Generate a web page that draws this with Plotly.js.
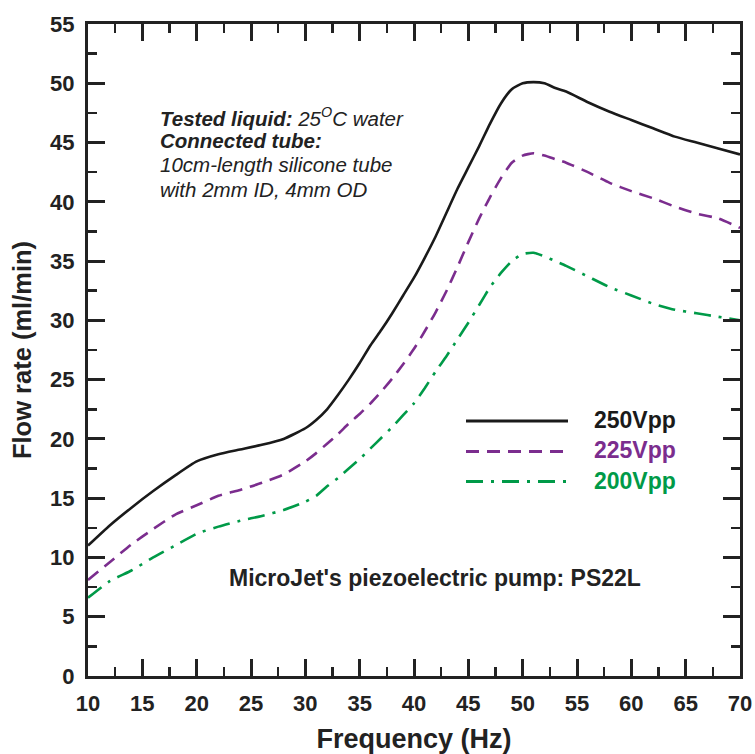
<!DOCTYPE html>
<html>
<head>
<meta charset="utf-8">
<script src="https://cdn.plot.ly/plotly-3.0.1.min.js"></script>
<style>html,body{margin:0;padding:0;background:#fff;}#chart{width:755px;height:754px;}</style>
</head>
<body>
<div id="chart"></div>
<script>
// Frequency (Hz)
const freq = [10,12,14,16,18,20,22,24,26,28,30,31,32,33,34,35,36,37,38,39,40,41,42,43,44,45,46,47,48,49,50,51,52,53,54,56,58,60,62,64,66,68,70];
// Flow rate (ml/min)
const flow250 = [11.0,12.7,14.2,15.6,16.9,18.1,18.7,19.1,19.5,20.0,20.9,21.6,22.5,23.7,25.0,26.4,27.9,29.2,30.6,32.1,33.6,35.3,37.1,39.1,41.1,42.9,44.7,46.6,48.3,49.5,50.0,50.1,50.0,49.6,49.3,48.4,47.6,46.9,46.2,45.5,45.0,44.5,44.0];
const flow225 = [8.1,9.6,11.1,12.4,13.6,14.4,15.2,15.7,16.3,17.0,18.1,18.8,19.6,20.4,21.3,22.1,23.0,24.0,25.1,26.3,27.6,29.1,30.7,32.5,34.5,36.6,38.6,40.4,42.0,43.3,43.9,44.1,43.9,43.6,43.3,42.5,41.6,40.9,40.3,39.6,39.0,38.6,37.8];
const flow200 = [6.6,8.0,8.9,10.0,11.0,12.0,12.6,13.1,13.5,14.0,14.7,15.2,16.0,16.7,17.5,18.3,19.2,20.1,21.0,22.0,23.0,24.3,25.7,27.0,28.4,29.8,31.3,32.8,34.0,35.0,35.6,35.7,35.4,35.0,34.6,33.7,32.8,32.1,31.4,30.9,30.6,30.3,30.0];
const seriesNames = ["250Vpp","225Vpp","200Vpp"];
const xTicks = [10,15,20,25,30,35,40,45,50,55,60,65,70];
const yTicks = [0,5,10,15,20,25,30,35,40,45,50,55];

const BLACK = "#1a1a1a", PURPLE = "#7b2d8e", GREEN = "#009a48";
const FONT = "Liberation Sans, Arial, Helvetica, sans-serif";
const dashes = ["solid", "13px,8px", "17px,8px,3px,8px"];
const colors = [BLACK, PURPLE, GREEN];
const ys = [flow250, flow225, flow200];

const traces = ys.map((y, i) => ({
  x: freq, y: y, type: "scatter", mode: "lines", name: seriesNames[i],
  line: {color: colors[i], width: 2.6, dash: dashes[i], shape: "spline", smoothing: 0.5},
  showlegend: false, hoverinfo: "skip"
}));

// plot area in pixels: x 88..740, y 24..676
const L = 88, R = 740, T = 24, B = 676;
const px = v => (v - L) / (R - L);
const py = v => (B - v) / (B - T);

const legendY = [421, 451.5, 481.5];
const shapes = legendY.map((yy, i) => ({
  type: "line", xref: "paper", yref: "paper",
  x0: px(466), x1: px(568), y0: py(yy), y1: py(yy),
  line: {color: colors[i], width: 2.8, dash: dashes[i]}
}));

const annotations = [];
legendY.forEach((yy, i) => annotations.push({
  xref: "paper", yref: "paper", x: px(592), y: py(yy - 1), xanchor: "left", yanchor: "middle",
  text: "<b>" + seriesNames[i] + "</b>", showarrow: false,
  font: {family: FONT, size: 23, color: colors[i]}
}));
const noteLines = [
  "<b><i>Tested liquid:</i></b><i> 25<sup>O</sup>C water</i>",
  "<b><i>Connected tube:</i></b>",
  "<i>10cm-length silicone tube</i>",
  "<i>with 2mm ID, 4mm OD</i>"
];
const noteY = [117, 141, 165, 190];
noteLines.forEach((t, i) => annotations.push({
  xref: "paper", yref: "paper", x: px(158), y: py(noteY[i]), xanchor: "left", yanchor: "middle",
  text: t, showarrow: false, font: {family: FONT, size: 20.5, color: "#222"}
}));
annotations.push({
  xref: "paper", yref: "paper", x: px(227), y: py(578), xanchor: "left", yanchor: "middle",
  text: "<b>MicroJet's piezoelectric pump: PS22L</b>", showarrow: false,
  font: {family: FONT, size: 23, color: "#222"}
});

const axisCommon = {
  showline: true, linecolor: "#222", linewidth: 3, mirror: "allticks",
  ticks: "inside", ticklen: 17, tickwidth: 3, tickcolor: "#222",
  showgrid: false, zeroline: false,
  tickfont: {family: FONT, size: 22, color: "#222", weight: "bold"},
  minor: {ticks: "inside", ticklen: 9, tickwidth: 2.5, tickcolor: "#222", dtick: 2.5, showgrid: false}
};

const layout = {
  width: 755, height: 754,
  margin: {l: L, r: 755 - R, t: T, b: 754 - B},
  paper_bgcolor: "#fff", plot_bgcolor: "#fff",
  showlegend: false,
  xaxis: Object.assign({}, axisCommon, {
    range: [10, 70], tickmode: "array", tickvals: xTicks, ticktext: xTicks.map(String),
    ticklabelstandoff: 6,
    title: {text: "<b>Frequency (Hz)</b>", font: {family: FONT, size: 27, color: "#222"}, standoff: 16}
  }),
  yaxis: Object.assign({}, axisCommon, {
    range: [0, 55], tickmode: "array", tickvals: yTicks, ticktext: yTicks.map(String),
    ticklabelstandoff: 6,
    title: {text: "<b>Flow rate (ml/min)</b>", font: {family: FONT, size: 25.5, color: "#222"}, standoff: 12}
  }),
  shapes: shapes,
  annotations: annotations
};

Plotly.newPlot("chart", traces, layout, {displayModeBar: false, staticPlot: true});
</script>
</body>
</html>
